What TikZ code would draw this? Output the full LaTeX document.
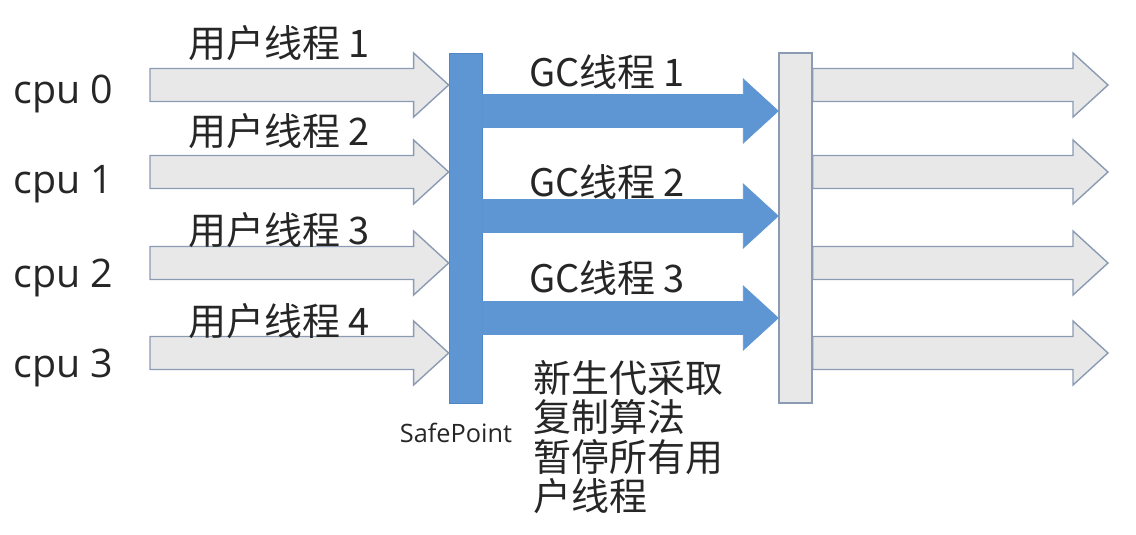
\documentclass[tikz,border=0pt]{standalone}
\usepackage{fontspec}
\setmainfont{Open Sans}
\newfontfamily\cjk{Noto Sans CJK SC}
\usepackage{tikz}
\usetikzlibrary{calc}

\definecolor{arrgray}{HTML}{E8E8E8}
\definecolor{arredge}{HTML}{8B9BB4}
\definecolor{gcblue}{HTML}{5E96D3}
\definecolor{gcedge}{HTML}{4F86C6}
\definecolor{txtgray}{HTML}{262626}

% block arrow: #1 style, #2 tail, #3 tip (same height)
\newcommand{\blockarrow}[3]{%
  \draw[#1] ($(#2)+(0,-16.5)$) -- ($(#3)+(-35,-16.5)$) -- ($(#3)+(-35,-32)$) -- (#3)
    -- ($(#3)+(-35,32)$) -- ($(#3)+(-35,16.5)$) -- ($(#2)+(0,16.5)$) -- cycle;}

\begin{document}
\begin{tikzpicture}[x=0.025cm, y=-0.025cm, text=txtgray,
  usrarrow/.style={fill=arrgray, draw=arredge, line width=1pt, line join=miter},
  gcarrow/.style={fill=gcblue, draw=gcblue, line width=0.5pt},
  bar/.style={rectangle, inner sep=0pt, minimum width=0.825cm, minimum height=8.75cm},
  cpulabel/.style={inner sep=0pt, font=\fontsize{28}{30}\selectfont},
  thrlabel/.style={inner sep=0pt, font=\cjk\fontsize{27}{29}\selectfont}]

\useasboundingbox (0,0) rectangle (1136,534);

% Bars
\node[bar, fill=gcblue, draw=gcedge, line width=0.5pt] (sp) at (465.5,228) {};
\node[bar, fill=arrgray, draw=arredge, line width=1pt] (rb) at (795.5,228) {};
\node[inner sep=0pt, font=\fontsize{18}{20}\selectfont] (splabel) at (456,433) {SafePoint};

% User threads (left) and continuing threads (right)
\foreach \i/\y/\b/\l in {0/85/103/43, 1/172/193/131, 2/263/287/230, 3/353/377/321} {
  \coordinate (u\i) at (150,\y);
  \coordinate (ut\i) at (sp.west |- u\i);
  \coordinate (r\i) at (rb.east |- u\i);
  \coordinate (rt\i) at (1108,\y);
  \blockarrow{usrarrow}{u\i}{ut\i}
  \blockarrow{usrarrow}{r\i}{rt\i}
  \node[cpulabel, anchor=base west] (cpu\i) at (13,\b) {cpu \i};
  \pgfmathtruncatemacro{\n}{\i+1}
  \node[thrlabel] (usr\i) at (279,\l) {用户线程 \n};
}

% GC threads
\foreach \i/\y/\l in {1/111/72, 2/216/182, 3/318/278} {
  \coordinate (g\i) at (sp.east |- 0,\y);
  \coordinate (gt\i) at (rb.west |- 0,\y);
  \blockarrow{gcarrow}{g\i}{gt\i}
  \node[thrlabel] (gc\i) at (607,\l) {GC线程 \i};
}

% Note
\node[anchor=north west, inner sep=0pt, align=left, font=\cjk\fontsize{27}{28}\selectfont] (note) at (533,360)
  {新生代采取\\复制算法\\暂停所有用\\户线程};

\end{tikzpicture}
\end{document}
